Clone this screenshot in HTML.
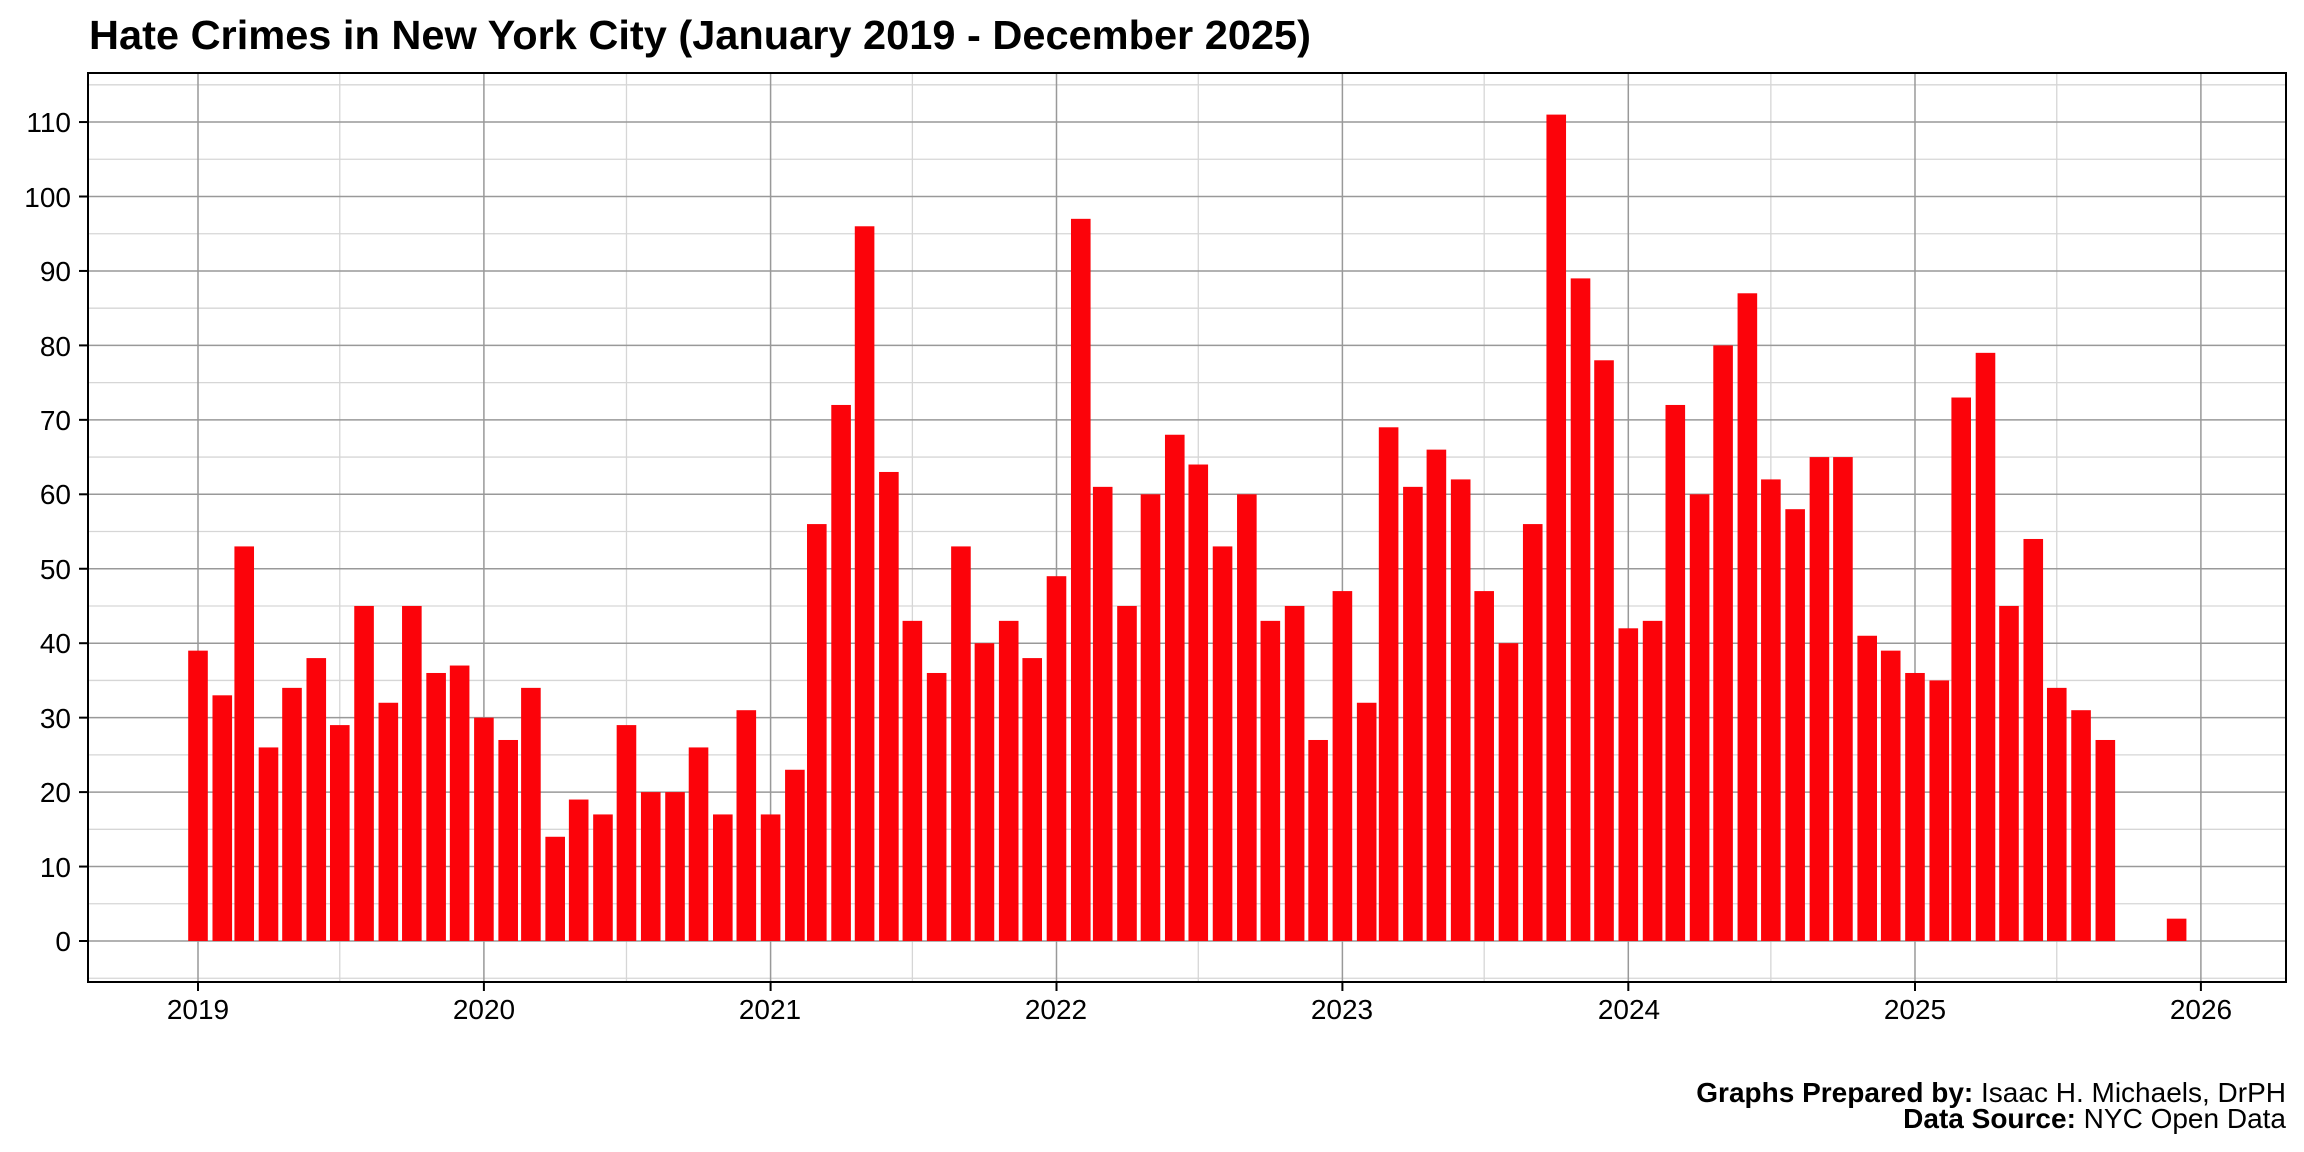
<!DOCTYPE html>
<html><head><meta charset="utf-8"><style>
html,body{margin:0;padding:0;background:#fff;}
svg{display:block;font-family:"Liberation Sans",Arial,sans-serif;}
</style></head><body>
<svg id="s" width="2304" height="1152" xmlns="http://www.w3.org/2000/svg">
<rect width="2304" height="1152" fill="#fff"/>
<g id="grid"></g>
<g id="bars"></g>
<rect x="88" y="73" width="2198" height="909" fill="none" stroke="#000" stroke-width="2"/>
<g id="ticks" stroke="#000" stroke-width="2"></g>
<text x="89" y="49" font-size="41" font-weight="bold" textLength="1222" lengthAdjust="spacingAndGlyphs">Hate Crimes in New York City (January 2019 - December 2025)</text>
<g font-size="28" text-anchor="end" id="ylab">
<text x="71" y="951">0</text><text x="71" y="877">10</text><text x="71" y="802">20</text><text x="71" y="728">30</text><text x="71" y="653">40</text><text x="71" y="579">50</text><text x="71" y="504">60</text><text x="71" y="430">70</text><text x="71" y="356">80</text><text x="71" y="281">90</text><text x="71" y="207">100</text><text x="71" y="132">110</text>
</g>
<g font-size="28" text-anchor="middle">
<text x="198" y="1019">2019</text><text x="484" y="1019">2020</text><text x="770" y="1019">2021</text><text x="1056" y="1019">2022</text><text x="1342" y="1019">2023</text><text x="1629" y="1019">2024</text><text x="1915" y="1019">2025</text><text x="2201" y="1019">2026</text>
</g>
<g font-size="28" text-anchor="end">
<text x="2286" y="1102"><tspan font-weight="bold">Graphs Prepared by:</tspan> Isaac H. Michaels, DrPH</text>
<text x="2286" y="1128"><tspan font-weight="bold">Data Source:</tspan> NYC Open Data</text>
</g>
</svg>
<script>
var NS="http://www.w3.org/2000/svg";
function el(p,t,a){var e=document.createElementNS(NS,t);for(var k in a)e.setAttribute(k,a[k]);p.appendChild(e);return e;}
var g=document.getElementById('grid'),b=document.getElementById('bars'),tk=document.getElementById('ticks');
var base=Date.UTC(2019,0,1),ppd=286.1/365.25;
function X(y,m,d){return 198+(Date.UTC(y,m,d)-base)/86400000*ppd;}
function Y(v){return 941-v*7.445;}
for(var v=-5;v<=115;v+=10){el(g,'line',{x1:88,x2:2286,y1:Y(v),y2:Y(v),stroke:'#d6d6d6','stroke-width':1.3});}
for(var yr=2019;yr<=2025;yr++){var x=X(yr,6,1);el(g,'line',{x1:x,x2:x,y1:73,y2:982,stroke:'#d6d6d6','stroke-width':1.3});}
for(var v=0;v<=110;v+=10){el(g,'line',{x1:88,x2:2286,y1:Y(v),y2:Y(v),stroke:'#999','stroke-width':1.5});el(tk,'line',{x1:79,x2:88,y1:Y(v),y2:Y(v)});}
for(var yr=2019;yr<=2026;yr++){var x=X(yr,0,1);el(g,'line',{x1:x,x2:x,y1:73,y2:982,stroke:'#999','stroke-width':1.5});el(tk,'line',{x1:x,x2:x,y1:982,y2:991});}
var d=[39,33,53,26,34,38,29,45,32,45,36,37,30,27,34,14,19,17,29,20,20,26,17,31,17,23,56,72,96,63,43,36,53,40,43,38,49,97,61,45,60,68,64,53,60,43,45,27,47,32,69,61,66,62,47,40,56,111,89,78,42,43,72,60,80,87,62,58,65,65,41,39,36,35,73,79,45,54,34,31,27,null,null,3];
for(var i=0;i<d.length;i++){if(d[i]==null)continue;var yr=2019+Math.floor(i/12),m=i%12;var cx=X(yr,m,1);el(b,'rect',{x:cx-9.8,y:Y(d[i]),width:19.6,height:d[i]*7.445,fill:'#fc030a'});}
</script>
</body></html>
